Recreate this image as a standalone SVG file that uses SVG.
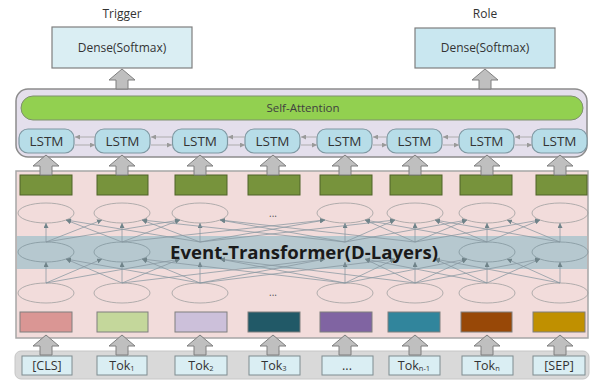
<svg xmlns="http://www.w3.org/2000/svg" xmlns:xlink="http://www.w3.org/1999/xlink" width="590" height="383" viewBox="0 0 590 383">
<style>
text{font-family:"Open Sans","Noto Sans","DejaVu Sans",sans-serif;fill:#333;text-anchor:middle}
.lbl{font-size:12px}
.dense{fill:#daeef3;stroke:#7f7f7f;stroke-width:1.2}
.lstm{fill:#b7dde8;stroke:#7f98a2;stroke-width:1.2}
.lstmt{font-size:13.5px;fill:#333}
.green{fill:#77933c;stroke:#4f6228;stroke-width:1}
.ell{fill:none;stroke:#a0a0a0;stroke-width:0.8}
.ellm{fill:none;stroke:#84979e;stroke-width:0.8}
.emb{stroke:#7f7f7f;stroke-width:1}
.tok{fill:#daeef3;stroke:#7f8c90;stroke-width:1}
.tokt{font-size:12.5px;fill:#333}
.sub{font-size:7.5px}
.barrow{fill:#bfbfbf;stroke:#7f7f7f;stroke-width:1}
.ln{stroke:#8797a0;stroke-width:0.75;fill:none;marker-end:url(#ah)}
.bi{stroke:#a6a6a6;stroke-width:0.9;fill:none;marker-end:url(#sah)}
.dots{font-size:10px;fill:#555}
</style>
<defs>
<marker id="ah" viewBox="0 0 6 6" refX="6" refY="3" markerWidth="5" markerHeight="5" markerUnits="userSpaceOnUse" orient="auto">
<path d="M0,0 L6,3 L0,6 Z" fill="#6f8389"/>
</marker>
<marker id="sah" viewBox="0 0 6 6" refX="6" refY="3" markerWidth="5" markerHeight="5" markerUnits="userSpaceOnUse" orient="auto">
<path d="M0,0 L6,3 L0,6 Z" fill="#9a9a9a"/>
</marker>
<path id="ba" d="M0,0 L13,11 L6,11 L6,20 L-6,20 L-6,11 L-13,11 Z"/>
</defs>

<!-- output heads -->
<g id="trigger">
<text class="lbl" x="122" y="18">Trigger</text>
<rect class="dense" x="52" y="27" width="140" height="41"/>
<text class="lbl" x="122" y="52">Dense(Softmax)</text>
</g>
<g id="role">
<text class="lbl" x="485" y="18">Role</text>
<rect class="dense" x="415" y="28" width="140" height="40" style="fill:#c9e7f0"/>
<text class="lbl" x="485" y="52">Dense(Softmax)</text>
</g>

<!-- BiLSTM + attention block -->
<g id="bilstm-block">
<rect x="16" y="89" width="571" height="68" rx="12" fill="#e4dfec" stroke="#8c8c8c" stroke-width="1.5"/>
</g>
<g id="self-attention">
<rect x="21" y="96" width="562" height="24" rx="12" fill="#92d050" stroke="#7f8f6f" stroke-width="1"/>
<text x="303" y="112" style="font-size:11.5px;fill:#404040">Self-Attention</text>
</g>
<g id="lstm">
<rect class="lstm" x="19" y="129" width="55" height="24" rx="9"/>
<rect class="lstm" x="95" y="129" width="55" height="24" rx="9"/>
<rect class="lstm" x="172.5" y="129" width="55" height="24" rx="9"/>
<rect class="lstm" x="245" y="129" width="55" height="24" rx="9"/>
<rect class="lstm" x="317" y="129" width="55" height="24" rx="9"/>
<rect class="lstm" x="387" y="129" width="55" height="24" rx="9"/>
<rect class="lstm" x="459" y="129" width="55" height="24" rx="9"/>
<rect class="lstm" x="532" y="129" width="55" height="24" rx="9"/>
<text class="lstmt" x="46.5" y="146">LSTM</text>
<text class="lstmt" x="122.5" y="146">LSTM</text>
<text class="lstmt" x="200" y="146">LSTM</text>
<text class="lstmt" x="272.5" y="146">LSTM</text>
<text class="lstmt" x="344.5" y="146">LSTM</text>
<text class="lstmt" x="414.5" y="146">LSTM</text>
<text class="lstmt" x="486.5" y="146">LSTM</text>
<text class="lstmt" x="559.5" y="146">LSTM</text>
</g>

<!-- Event-Transformer panel -->
<g id="event-transformer">
<rect x="16" y="171" width="572" height="167" fill="#f2dcdb" stroke="#a6a6a6" stroke-width="1.5"/>
<rect x="17" y="236" width="570" height="33" fill="#b6c8cf"/>
</g>
<g id="outputs">
<rect class="green" x="20" y="175" width="52" height="20"/>
<rect class="green" x="97" y="175" width="51" height="20"/>
<rect class="green" x="175" y="175" width="52" height="20"/>
<rect class="green" x="248" y="175" width="52" height="20"/>
<rect class="green" x="320" y="175" width="52" height="20"/>
<rect class="green" x="390" y="175" width="52" height="20"/>
<rect class="green" x="460" y="175" width="52" height="20"/>
<rect class="green" x="536" y="175" width="51" height="20"/>
</g>
<g id="layer-top">
<ellipse class="ell" cx="46" cy="213" rx="28" ry="10"/>
<ellipse class="ell" cx="122" cy="213" rx="28" ry="10"/>
<ellipse class="ell" cx="200" cy="213" rx="28" ry="10"/>
<text class="dots" x="273" y="217">...</text>
<ellipse class="ell" cx="345" cy="213" rx="28" ry="10"/>
<ellipse class="ell" cx="415" cy="213" rx="28" ry="10"/>
<ellipse class="ell" cx="487" cy="213" rx="28" ry="10"/>
<ellipse class="ell" cx="560" cy="213" rx="28" ry="10"/>
</g>
<g id="layer-mid">
<ellipse class="ellm" cx="46" cy="252" rx="28" ry="10"/>
<ellipse class="ellm" cx="122" cy="252" rx="28" ry="10"/>
<ellipse class="ellm" cx="487" cy="252" rx="28" ry="10"/>
<ellipse class="ellm" cx="560" cy="252" rx="28" ry="10"/>
</g>
<g id="layer-bottom">
<ellipse class="ell" cx="46" cy="293" rx="28" ry="10"/>
<ellipse class="ell" cx="122" cy="293" rx="28" ry="10"/>
<ellipse class="ell" cx="200" cy="293" rx="28" ry="10"/>
<text class="dots" x="273" y="296">...</text>
<ellipse class="ell" cx="345" cy="293" rx="28" ry="10"/>
<ellipse class="ell" cx="415" cy="293" rx="28" ry="10"/>
<ellipse class="ell" cx="487" cy="293" rx="28" ry="10"/>
<ellipse class="ell" cx="560" cy="293" rx="28" ry="10"/>
</g>
<g id="embeddings">
<rect class="emb" x="20" y="312" width="52" height="20" fill="#da9694"/>
<rect class="emb" x="97" y="312" width="51" height="20" fill="#c4d79b"/>
<rect class="emb" x="175" y="312" width="52" height="20" fill="#ccc0da"/>
<rect class="emb" x="248" y="312" width="52" height="20" fill="#215967"/>
<rect class="emb" x="320" y="312" width="52" height="20" fill="#8064a2"/>
<rect class="emb" x="388" y="312" width="52" height="20" fill="#31859c"/>
<rect class="emb" x="461" y="312" width="51" height="20" fill="#984807"/>
<rect class="emb" x="533" y="312" width="52" height="20" fill="#c09000"/>
</g>

<!-- tokens -->
<g id="tokens">
<rect x="15" y="351" width="574" height="28" rx="6" fill="#d9d9d9" stroke="#c6c6c6" stroke-width="1"/>
<rect class="tok" x="22" y="356" width="50" height="19"/>
<rect class="tok" x="97" y="356" width="50" height="19"/>
<rect class="tok" x="175" y="356" width="52" height="19"/>
<rect class="tok" x="249" y="356" width="51" height="19"/>
<rect class="tok" x="322" y="356" width="51" height="19"/>
<rect class="tok" x="389" y="356" width="51" height="19"/>
<rect class="tok" x="462" y="356" width="51" height="19"/>
<rect class="tok" x="533" y="356" width="52" height="19"/>
<text class="tokt" x="47" y="370">[CLS]</text>
<text class="tokt" x="122" y="370">Tok<tspan class="sub" dy="1">1</tspan></text>
<text class="tokt" x="201" y="370">Tok<tspan class="sub" dy="1">2</tspan></text>
<text class="tokt" x="274" y="370">Tok<tspan class="sub" dy="1">3</tspan></text>
<text class="tokt" x="347" y="370">...</text>
<text class="tokt" x="414" y="370">Tok<tspan class="sub" dy="1">n-1</tspan></text>
<text class="tokt" x="487" y="370">Tok<tspan class="sub" dy="1">n</tspan></text>
<text class="tokt" x="559" y="370">[SEP]</text>
</g>

<!-- connectors -->
<g id="connectors">
<use href="#ba" class="barrow" x="122" y="69"/>
<use href="#ba" class="barrow" x="485" y="69"/>
<use href="#ba" class="barrow" x="46" y="155"/>
<use href="#ba" class="barrow" x="122" y="155"/>
<use href="#ba" class="barrow" x="200" y="155"/>
<use href="#ba" class="barrow" x="273" y="155"/>
<use href="#ba" class="barrow" x="345" y="155"/>
<use href="#ba" class="barrow" x="415" y="155"/>
<use href="#ba" class="barrow" x="487" y="155"/>
<use href="#ba" class="barrow" x="560" y="155"/>
<use href="#ba" class="barrow" x="46" y="335"/>
<use href="#ba" class="barrow" x="122" y="335"/>
<use href="#ba" class="barrow" x="200" y="335"/>
<use href="#ba" class="barrow" x="273" y="335"/>
<use href="#ba" class="barrow" x="345" y="335"/>
<use href="#ba" class="barrow" x="415" y="335"/>
<use href="#ba" class="barrow" x="487" y="335"/>
<use href="#ba" class="barrow" x="560" y="335"/>

<!-- LSTM bidirectional -->
<line class="bi" x1="95" y1="137" x2="75" y2="137"/><line class="bi" x1="75" y1="145" x2="95" y2="145"/>
<line class="bi" x1="172" y1="137" x2="151" y2="137"/><line class="bi" x1="151" y1="145" x2="172" y2="145"/>
<line class="bi" x1="245" y1="137" x2="228" y2="137"/><line class="bi" x1="228" y1="145" x2="245" y2="145"/>
<line class="bi" x1="317" y1="137" x2="301" y2="137"/><line class="bi" x1="301" y1="145" x2="317" y2="145"/>
<line class="bi" x1="387" y1="137" x2="373" y2="137"/><line class="bi" x1="373" y1="145" x2="387" y2="145"/>
<line class="bi" x1="459" y1="137" x2="443" y2="137"/><line class="bi" x1="443" y1="145" x2="459" y2="145"/>
<line class="bi" x1="532" y1="137" x2="515" y2="137"/><line class="bi" x1="515" y1="145" x2="532" y2="145"/>

<!-- bottom layer to middle layer -->
<line class="ln" x1="46" y1="283" x2="46" y2="262"/>
<line class="ln" x1="122" y1="283" x2="122" y2="262"/>
<line class="ln" x1="200" y1="283" x2="200" y2="262"/>
<line class="ln" x1="345" y1="283" x2="345" y2="262"/>
<line class="ln" x1="415" y1="283" x2="415" y2="262"/>
<line class="ln" x1="487" y1="283" x2="487" y2="262"/>
<line class="ln" x1="560" y1="283" x2="560" y2="262"/>
<line class="ln" x1="122" y1="283" x2="66" y2="259"/>
<line class="ln" x1="200" y1="283" x2="66" y2="259"/>
<line class="ln" x1="46" y1="283" x2="102" y2="259"/>
<line class="ln" x1="200" y1="283" x2="142" y2="259"/>
<line class="ln" x1="345" y1="283" x2="142" y2="259"/>
<line class="ln" x1="122" y1="283" x2="180" y2="259"/>
<line class="ln" x1="46" y1="283" x2="180" y2="259"/>
<line class="ln" x1="345" y1="283" x2="220" y2="259"/>
<line class="ln" x1="415" y1="283" x2="220" y2="259"/>
<line class="ln" x1="200" y1="283" x2="325" y2="259"/>
<line class="ln" x1="122" y1="283" x2="325" y2="259"/>
<line class="ln" x1="415" y1="283" x2="365" y2="259"/>
<line class="ln" x1="487" y1="283" x2="365" y2="259"/>
<line class="ln" x1="345" y1="283" x2="395" y2="259"/>
<line class="ln" x1="200" y1="283" x2="395" y2="259"/>
<line class="ln" x1="487" y1="283" x2="435" y2="259"/>
<line class="ln" x1="560" y1="283" x2="435" y2="259"/>
<line class="ln" x1="415" y1="283" x2="467" y2="259"/>
<line class="ln" x1="345" y1="283" x2="467" y2="259"/>
<line class="ln" x1="560" y1="283" x2="507" y2="259"/>
<line class="ln" x1="487" y1="283" x2="540" y2="259"/>
<line class="ln" x1="415" y1="283" x2="540" y2="259"/>

<!-- middle layer to top layer -->
<line class="ln" x1="46" y1="242" x2="46" y2="223"/>
<line class="ln" x1="122" y1="242" x2="122" y2="223"/>
<line class="ln" x1="200" y1="242" x2="200" y2="223"/>
<line class="ln" x1="345" y1="242" x2="345" y2="223"/>
<line class="ln" x1="415" y1="242" x2="415" y2="223"/>
<line class="ln" x1="487" y1="242" x2="487" y2="223"/>
<line class="ln" x1="560" y1="242" x2="560" y2="223"/>
<line class="ln" x1="122" y1="242" x2="66" y2="220"/>
<line class="ln" x1="200" y1="242" x2="66" y2="220"/>
<line class="ln" x1="46" y1="242" x2="102" y2="220"/>
<line class="ln" x1="200" y1="242" x2="142" y2="220"/>
<line class="ln" x1="345" y1="242" x2="142" y2="220"/>
<line class="ln" x1="122" y1="242" x2="180" y2="220"/>
<line class="ln" x1="46" y1="242" x2="180" y2="220"/>
<line class="ln" x1="345" y1="242" x2="220" y2="220"/>
<line class="ln" x1="415" y1="242" x2="220" y2="220"/>
<line class="ln" x1="200" y1="242" x2="325" y2="220"/>
<line class="ln" x1="122" y1="242" x2="325" y2="220"/>
<line class="ln" x1="415" y1="242" x2="365" y2="220"/>
<line class="ln" x1="487" y1="242" x2="365" y2="220"/>
<line class="ln" x1="345" y1="242" x2="395" y2="220"/>
<line class="ln" x1="200" y1="242" x2="395" y2="220"/>
<line class="ln" x1="487" y1="242" x2="435" y2="220"/>
<line class="ln" x1="560" y1="242" x2="435" y2="220"/>
<line class="ln" x1="415" y1="242" x2="467" y2="220"/>
<line class="ln" x1="345" y1="242" x2="467" y2="220"/>
<line class="ln" x1="560" y1="242" x2="507" y2="220"/>
<line class="ln" x1="487" y1="242" x2="540" y2="220"/>
<line class="ln" x1="415" y1="242" x2="540" y2="220"/>
</g>

<g id="event-transformer-label">
<text x="304" y="259" textLength="268" lengthAdjust="spacingAndGlyphs" style="font-size:17px;font-weight:bold;fill:#1a1a1a">Event-Transformer(D-Layers)</text>
</g>
</svg>
